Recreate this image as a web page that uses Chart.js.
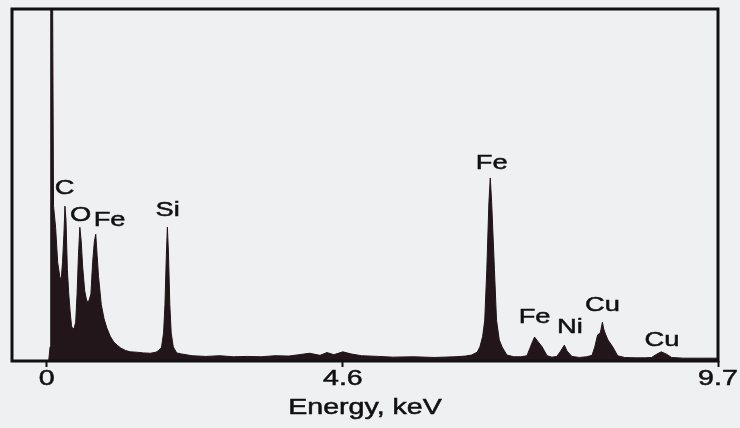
<!DOCTYPE html>
<html>
<head>
<meta charset="utf-8">
<script src="https://cdn.jsdelivr.net/npm/chart.js@4"></script>
<style>
  html, body { margin: 0; padding: 0; background: #eff0f2; }
  #wrap { width: 740px; height: 428px; }
</style>
</head>
<body>
<div id="wrap"><canvas id="spectrum" width="740" height="428"></canvas></div>
<script>
// spectrum: energy (keV) and counts (0-100 = frame height)
const energy = [
  -0.50, 0.03, 0.05, 0.06, 0.085, 0.10, 0.13, 0.16, 0.19, 0.21,
  0.23, 0.25, 0.265, 0.28, 0.30, 0.32, 0.34, 0.36, 0.38, 0.40,
  0.42, 0.44, 0.46, 0.48, 0.50, 0.52, 0.55, 0.58, 0.61, 0.64,
  0.665, 0.69, 0.71, 0.73, 0.75, 0.79, 0.83, 0.87, 0.92, 0.97,
  1.02, 1.07, 1.14, 1.21, 1.30, 1.40, 1.50, 1.58, 1.62, 1.66,
  1.69, 1.71, 1.73, 1.745, 1.76, 1.78, 1.80, 1.83, 1.88, 1.95,
  2.10, 2.30, 2.50, 2.70, 2.90, 3.10, 3.30, 3.50, 3.65, 3.80,
  3.95, 4.05, 4.15, 4.28, 4.40, 4.55, 4.80, 5.00, 5.30, 5.60,
  5.90, 6.05, 6.14, 6.22, 6.26, 6.30, 6.33, 6.36, 6.39, 6.41,
  6.43, 6.47, 6.50, 6.54, 6.58, 6.65, 6.75, 6.85, 6.94, 6.98,
  7.02, 7.05, 7.10, 7.16, 7.23, 7.30, 7.37, 7.42, 7.48, 7.52,
  7.59, 7.70, 7.80, 7.88, 7.92, 7.96, 8.00, 8.03, 8.05, 8.08,
  8.11, 8.18, 8.25, 8.35, 8.50, 8.65, 8.74, 8.82, 8.88, 8.95,
  9.03, 9.20, 9.40, 9.70
];
const counts = [
  0, 0, 4, 110, 110, 44, 38, 28, 24, 23,
  28, 36, 44, 40, 26, 19, 14, 10, 9, 9.5,
  11, 19, 30, 38, 34, 27, 20, 17, 17, 19,
  28, 34, 36, 30, 24, 16, 12, 9.4, 7, 5.4,
  4.5, 3.7, 3, 2.6, 2.5, 2.3, 2.2, 2.5, 3, 3.9,
  8, 16, 30, 38, 31, 16, 8, 4, 2.3, 2,
  1.5, 1.3, 1.5, 1.2, 1.3, 1.2, 1.5, 1.4, 1.8, 2.2,
  1.6, 2.4, 1.8, 2.6, 2.0, 1.5, 1.3, 1.1, 1.2, 1.0,
  1.2, 1.4, 1.7, 2.5, 4, 7, 11.6, 26, 45, 52,
  45, 26, 11.6, 6, 4, 1.7, 1.2, 1.2, 1.5, 3.5,
  5.5, 6.8, 5.5, 4, 1.5, 1.1, 1.3, 2.6, 4.5, 2.8,
  1.3, 1.0, 1.2, 1.6, 4, 7.4, 8, 11, 9, 7.4,
  6, 4, 1.5, 1.0, 0.9, 0.9, 1.0, 2.0, 2.6, 2.0,
  1.0, 0.8, 0.8, 0.8
];

// peak labels (where the text sits, in keV / counts)
const peakNames  = ['C', 'O', 'Fe', 'Si', 'Fe', 'Fe', 'Ni', 'Cu', 'Cu'];
const peakLabelE = [0.26, 0.49, 0.91, 1.75, 6.43, 7.05, 7.56, 8.03, 8.89];
const peakLabelY = [49.1, 41.5, 40.1, 42.9, 56.3, 12.5, 9.7, 15.9, 6.0];

// axis ticks: the reference puts its "4.6" tick a bit left of a true 4.6 keV
const tickPositions = [0, 4.28, 9.7];
const tickLabels = ['0', '4.6', '9.7'];
const axisTitle = 'Energy, keV';

const ink = '#121012';
const fontFamily = '"Liberation Sans", Arial, sans-serif';
// the original figure is stretched sideways, so its lettering is too
const stretch = 1.3;

function stretchedText(c, text, x, y) {
    c.save();
    c.translate(x, y);
    c.scale(stretch, 1);
    c.fillText(text, 0, 0);
    c.strokeText(text, 0, 0);
    c.restore();
}

// frame round the plot area
const framePlugin = {
    id: 'frame',
    afterDatasetsDraw(chart) {
        const a = chart.chartArea;
        const c = chart.ctx;
        c.save();
        c.strokeStyle = ink;
        c.lineWidth = 3;
        c.strokeRect(a.left, a.top, a.right - a.left, a.bottom - a.top);
        c.restore();
    }
};

// element names over the peaks, tick labels and axis title
const textPlugin = {
    id: 'texts',
    afterDraw(chart) {
        const c = chart.ctx;
        const xs = chart.scales.x, ys = chart.scales.y;
        const a = chart.chartArea;
        c.save();
        c.fillStyle = ink;
        c.strokeStyle = ink;
        c.lineWidth = 0.5;
        c.textAlign = 'center';
        c.textBaseline = 'middle';

        c.font = '21px ' + fontFamily;
        peakNames.forEach((name, i) => {
            stretchedText(c, name, xs.getPixelForValue(peakLabelE[i]), ys.getPixelForValue(peakLabelY[i]));
        });

        c.font = '22px ' + fontFamily;
        tickPositions.forEach((v, i) => {
            stretchedText(c, tickLabels[i], xs.getPixelForValue(v), a.bottom + 18);
        });
        stretchedText(c, axisTitle, (a.left + a.right) / 2, a.bottom + 47);
        c.restore();
    }
};

new Chart(document.getElementById('spectrum'), {
    type: 'line',
    data: {
        datasets: [{
            data: energy.map((e, i) => ({ x: e, y: counts[i] })),
            borderColor: '#1f1416',
            backgroundColor: '#22161a',
            borderWidth: 1,
            pointRadius: 0,
            fill: 'origin',
            tension: 0
        }]
    },
    options: {
        responsive: false,
        animation: false,
        layout: { padding: { top: 9, left: 12, right: 22, bottom: 0 } },
        plugins: {
            legend: { display: false },
            tooltip: { enabled: false }
        },
        scales: {
            x: {
                type: 'linear',
                min: -0.5,
                max: 9.7,
                afterBuildTicks(scale) {
                    scale.ticks = tickPositions.map(v => ({ value: v }));
                },
                afterFit(scale) { scale.height = 67; },
                border: { display: false },
                grid: {
                    drawOnChartArea: false,
                    drawTicks: true,
                    tickLength: 6,
                    tickWidth: 2,
                    tickColor: ink
                },
                ticks: { display: false }
            },
            y: {
                display: false,
                min: 0,
                max: 100
            }
        }
    },
    plugins: [framePlugin, textPlugin]
});
</script>
</body>
</html>
